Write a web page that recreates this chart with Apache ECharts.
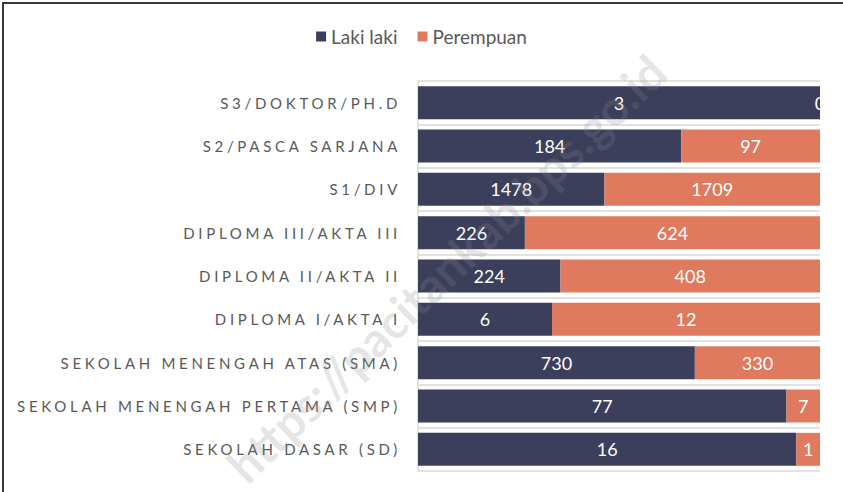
<!DOCTYPE html>
<html>
<head>
<meta charset="utf-8">
<script src="https://cdn.jsdelivr.net/npm/echarts@6/dist/echarts.min.js"></script>
<style>
  html, body { margin: 0; padding: 0; background: #ffffff; }
  #chart { width: 843px; height: 492px; }
</style>
</head>
<body>
<div id="chart"></div>
<script>
// kategori pendidikan, urutan dari atas ke bawah
const categories = [
  'S3/DOKTOR/PH.D',
  'S2/PASCA SARJANA',
  'S1/DIV',
  'DIPLOMA III/AKTA III',
  'DIPLOMA II/AKTA II',
  'DIPLOMA I/AKTA I',
  'SEKOLAH MENENGAH ATAS (SMA)',
  'SEKOLAH MENENGAH PERTAMA (SMP)',
  'SEKOLAH DASAR (SD)',
];
const lakiLaki = [3, 184, 1478, 226, 224, 6, 730, 77, 16];
const perempuan = [0, 97, 1709, 624, 408, 12, 330, 7, 1];
const seriesNames = ['Laki laki', 'Perempuan'];

const colorLaki = '#3b3f5b';
const colorPerempuan = '#e07a5f';
const fontFamily = 'Lato, "Noto Sans", sans-serif';

// 100% stacked: persen dihitung dari nilai asli, label tetap nilai asli
function toPercent(values, other) {
  return values.map((v, i) => ({ value: (v / (v + other[i])) * 100, raw: v }));
}

const chart = echarts.init(document.getElementById('chart'), null, { renderer: 'svg' });

const labelStyle = {
  show: true,
  position: 'inside',
  color: '#ffffff',
  fontSize: 18,
  fontFamily,
  formatter(p) {
    return p.data.raw;
  },
};

const option = {
  animation: false,
  backgroundColor: '#ffffff',
  legend: {
    top: 22,
    left: 'center',
    itemWidth: 10,
    itemHeight: 10,
    itemGap: 20,
    icon: 'rect',
    textStyle: {
      color: '#595959',
      fontSize: 19,
      fontFamily,
    },
    data: seriesNames,
  },
  grid: {
    left: 418,
    right: 23,
    top: 81,
    bottom: 21,
  },
  xAxis: {
    type: 'value',
    min: 0,
    max: 100,
    show: false,
  },
  yAxis: {
    type: 'category',
    data: categories,
    inverse: true,
    axisTick: { show: false },
    axisLine: { show: true, lineStyle: { color: '#d9d9d9', width: 1.5 } },
    splitLine: { show: true, lineStyle: { color: '#d9d9d9', width: 1.5 } },
    axisLabel: {
      color: '#595959',
      fontSize: 15,
      fontFamily,
      margin: 17,
    },
  },
  series: [
    {
      name: seriesNames[0],
      type: 'bar',
      stack: 'total',
      barCategoryGap: '24%',
      itemStyle: { color: colorLaki },
      label: labelStyle,
      data: toPercent(lakiLaki, perempuan),
    },
    {
      name: seriesNames[1],
      type: 'bar',
      stack: 'total',
      barCategoryGap: '24%',
      itemStyle: { color: colorPerempuan },
      label: labelStyle,
      data: toPercent(perempuan, lakiLaki),
    },
  ],
  graphic: [
    {
      type: 'rect',
      silent: true,
      shape: { x: 3, y: 3, width: 900, height: 600 },
      style: { fill: 'none', stroke: '#3a3a3a', lineWidth: 2 },
    },
    {
      type: 'text',
      silent: true,
      z: 100,
      x: 446,
      y: 268,
      rotation: 0.77,
      style: {
        text: 'https://pacitankab.bps.go.id',
        fill: 'rgba(140,140,140,0.22)',
        font: 'bold 48px ' + fontFamily,
        align: 'center',
        verticalAlign: 'middle',
      },
    },
  ],
};

chart.setOption(option);

// label sumbu Y memakai jarak huruf lebar seperti di Excel
function spaceAxisLabels() {
  document.querySelectorAll('#chart svg text').forEach((el) => {
    if (categories.indexOf(el.textContent) !== -1) {
      el.setAttribute('letter-spacing', '3.7');
    }
  });
}
chart.on('finished', spaceAxisLabels);
spaceAxisLabels();
</script>
</body>
</html>
